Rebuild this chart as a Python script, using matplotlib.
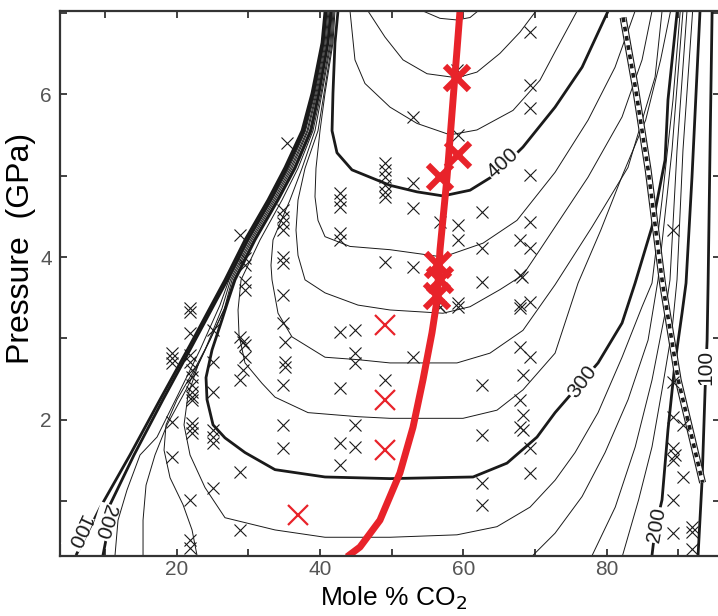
import matplotlib
matplotlib.use("Agg")
import matplotlib.pyplot as plt
from matplotlib.ticker import MultipleLocator

plt.rcParams['font.family'] = ['Liberation Sans', 'DejaVu Sans']

# ---- contour lines (x = mole % CO2, y = GPa) ----
c100_left = [(5.95, 0.34), (7.62, 0.63), (9.29, 0.92), (13.48, 1.57), (17.67, 2.25), (21.86, 2.92),
             (25.21, 3.47), (26.74, 3.72), (29.53, 4.21), (32.74, 4.70), (35.12, 5.10), (37.49, 5.55),
             (38.88, 6.01), (40.28, 6.63), (40.70, 7.02)]
c100_right = [(92.77, 0.34), (93.33, 1.26), (93.75, 2.37), (94.03, 2.98), (94.17, 3.68), (94.45, 5.40),
              (94.73, 7.02)]
c200_left = [(9.71, 0.34), (10.13, 0.53), (10.69, 0.96), (14.04, 1.57), (18.09, 2.25), (22.21, 2.92),
             (25.55, 3.47), (27.09, 3.72), (29.88, 4.21), (33.09, 4.70), (35.39, 5.09), (37.77, 5.55),
             (39.09, 6.01), (40.42, 6.63), (40.84, 7.02)]
c200_right = [(86.34, 0.34), (86.76, 0.65), (87.74, 1.02), (88.57, 1.88), (89.55, 2.70), (90.53, 3.31),
              (91.09, 3.68), (91.92, 4.98), (93.04, 7.02)]
c220_left = [(11.39, 0.34), (11.81, 0.77), (13.06, 1.14), (14.88, 1.57), (17.25, 1.79), (20.18, 2.31),
             (23.25, 2.86), (26.04, 3.41), (27.30, 3.72), (30.09, 4.21), (33.30, 4.70), (35.67, 5.09),
             (37.98, 5.55), (39.30, 6.01), (40.56, 6.63), (40.98, 7.02)]
c220_right = [(82.24, 0.34), (84.47, 1.02), (86.34, 1.67), (87.74, 2.37), (89.13, 3.10), (89.83, 3.72),
              (90.66, 5.31), (92.01, 7.02)]
c240_left = [(15.30, 0.34), (15.30, 0.77), (15.72, 1.20), (16.97, 1.57), (18.65, 1.94), (21.30, 2.37),
             (23.95, 2.86), (26.32, 3.37), (27.51, 3.72), (30.30, 4.21), (33.51, 4.70), (35.88, 5.09),
             (38.19, 5.55), (39.44, 6.01), (40.70, 6.63), (41.12, 7.02)]
c240_right = [(78.0, 0.34), (81.21, 0.93), (84.0, 1.67), (86.34, 2.49), (88.16, 3.31), (88.85, 3.72),
              (89.83, 5.31), (91.22, 7.02)]
c260_left = [(22.83, 0.34), (22.14, 0.65), (20.88, 0.96), (19.07, 1.29), (18.23, 1.63), (18.51, 1.94),
             (20.04, 2.25), (22.28, 2.59), (24.65, 2.98), (26.60, 3.35), (27.72, 3.72), (30.51, 4.21),
             (33.72, 4.70), (36.09, 5.09), (38.33, 5.55), (39.58, 6.01), (40.84, 6.63), (41.26, 7.02)]
c260_right = [(69.74, 0.34), (72.81, 0.61), (76.58, 1.06), (79.79, 1.60), (83.0, 2.25), (85.79, 2.98),
              (87.18, 3.72), (89.13, 5.31), (90.66, 7.02)]
c280 = [(41.40, 7.02), (40.98, 6.63), (39.72, 6.01), (38.54, 5.55), (36.30, 5.09), (33.93, 4.70),
        (30.72, 4.21), (27.93, 3.72), (26.88, 3.41), (24.93, 3.04), (22.97, 2.67), (21.58, 2.31),
        (21.02, 1.94), (21.86, 1.57), (23.95, 1.17), (26.74, 0.80), (33.72, 0.65), (40.70, 0.56),
        (49.77, 0.56), (59.12, 0.59), (64.70, 0.69), (69.32, 0.93), (72.81, 1.26), (75.60, 1.60),
        (78.81, 2.09), (82.16, 2.77), (84.95, 3.39), (86.34, 3.68), (87.74, 4.70), (89.27, 5.93),
        (90.28, 7.02)]
c300 = [(41.54, 7.02), (41.12, 6.63), (39.86, 6.01), (38.74, 5.55), (36.51, 5.09), (34.14, 4.70),
        (30.93, 4.21), (28.14, 3.72), (27.30, 3.50), (26.32, 3.23), (24.93, 2.86), (24.09, 2.52),
        (24.23, 2.25), (25.07, 1.94), (26.74, 1.78), (29.53, 1.60), (33.72, 1.39), (40.70, 1.30),
        (49.77, 1.28), (61.36, 1.30), (66.10, 1.47), (70.29, 1.79), (72.81, 2.09), (78.81, 2.70),
        (82.16, 3.19), (83.98, 3.68), (86.34, 4.37), (88.16, 5.19), (88.57, 5.93), (89.86, 7.02)]
c320 = [(41.68, 7.02), (41.40, 6.63), (40.14, 6.01), (39.02, 5.55), (36.93, 5.09), (34.70, 4.70),
        (31.63, 4.21), (28.98, 3.72), (28.56, 3.35), (28.70, 3.04), (29.53, 2.70), (31.90, 2.45),
        (33.72, 2.28), (38.33, 2.09), (45.30, 2.04), (49.77, 2.02), (59.96, 2.02), (64.70, 2.12),
        (68.33, 2.37), (72.81, 2.82), (76.02, 3.68), (79.19, 4.33), (82.24, 5.01), (85.45, 5.68),
        (87.54, 6.42), (88.93, 7.02)]
c340 = [(41.81, 7.02), (41.54, 6.63), (40.28, 6.01), (39.30, 5.55), (37.49, 5.09), (35.81, 4.70),
        (33.44, 4.21), (33.16, 3.90), (33.30, 3.72), (34.14, 3.31), (36.09, 3.02), (40.70, 2.77),
        (45.30, 2.74), (49.77, 2.70), (59.12, 2.70), (63.72, 2.82), (68.33, 3.10), (72.81, 3.66),
        (77.97, 4.37), (82.99, 5.10), (86.77, 6.21), (87.74, 7.02)]
c360 = [(41.95, 7.02), (41.68, 6.63), (40.56, 6.01), (39.72, 5.55), (37.91, 5.09), (36.93, 4.70),
        (36.65, 4.33), (36.93, 4.02), (37.91, 3.72), (40.70, 3.56), (45.30, 3.41), (49.77, 3.35),
        (57.17, 3.31), (60.94, 3.39), (65.12, 3.60), (68.33, 3.78), (70.70, 4.09), (72.81, 4.37),
        (77.41, 4.98), (82.16, 5.72), (84.95, 6.42), (86.34, 7.02)]
c380 = [(42.09, 7.02), (41.81, 6.63), (40.70, 6.01), (40.00, 5.55), (39.44, 5.09), (39.30, 4.74),
        (39.72, 4.45), (40.70, 4.25), (44.19, 4.13), (49.77, 4.09), (57.17, 4.00), (62.75, 4.17),
        (67.49, 4.45), (72.81, 5.04), (77.41, 5.68), (81.18, 6.33), (83.98, 7.02)]
c400 = [(42.51, 7.02), (42.09, 6.63), (41.81, 6.01), (41.68, 5.55), (42.37, 5.28), (44.46, 5.07),
        (49.77, 4.88), (53.54, 4.80), (57.17, 4.75), (60.94, 4.82), (64.43, 5.01), (68.33, 5.35),
        (72.81, 5.84), (76.58, 6.33), (80.21, 7.02)]
c420 = [(44.19, 7.02), (44.88, 6.42), (46.28, 6.13), (49.77, 5.84), (53.54, 5.64), (58.15, 5.50),
        (61.91, 5.56), (66.94, 5.80), (70.70, 6.17), (72.81, 6.52), (75.88, 7.02)]
c440 = [(46.70, 7.02), (49.07, 6.70), (51.59, 6.42), (54.94, 6.25), (59.12, 6.20), (61.91, 6.27),
        (65.12, 6.50), (67.91, 6.76), (70.14, 7.02)]
c460 = [(54.37, 7.02), (56.75, 6.93), (59.12, 6.91), (60.94, 6.94), (62.05, 7.02)]

# hatched boundary on the right
boundary = [(82.3, 6.94), (84.0, 6.09), (85.8, 5.07), (87.8, 3.68), (90.0, 2.49), (91.9, 1.79), (93.4, 1.23)]

# red trend line
red_curve = [(43.77, 0.32), (45.58, 0.44), (48.37, 0.77), (51.16, 1.35), (52.98, 1.91), (54.37, 2.49),
             (55.63, 3.07), (56.33, 3.47), (56.75, 4.09), (57.73, 4.98), (58.57, 5.93), (59.12, 6.54),
             (59.54, 7.02)]

# experiments (black crosses)
exp_x = [35.40, 42.82, 42.82, 42.82, 42.82, 42.82, 28.83, 34.83, 34.83, 34.83, 34.83, 34.83, 34.83,
         34.83, 29.53, 29.53, 29.53, 29.53, 21.86, 69.32, 59.12, 69.32, 69.32, 53.0, 59.26,
         49.07, 49.07, 49.07, 49.07, 49.07, 49.07, 53.0, 69.32, 53.0, 56.75, 59.26, 59.26, 62.61,
         69.32, 67.91, 69.32, 62.61, 49.07, 53.0, 62.61, 67.91, 68.19, 59.26, 56.47, 67.91, 69.32,
         89.28,
         21.86, 21.86, 21.86, 21.86, 22.14, 22.14, 22.14, 22.14, 22.14, 22.14, 22.14, 22.14, 22.14,
         19.34, 19.34, 19.34, 19.34, 19.34, 25.07, 25.07, 25.07, 25.07, 25.07, 25.07, 25.07,
         21.86, 21.86, 21.86, 28.83, 29.25, 29.53, 29.53, 29.25, 28.83, 28.83, 28.83,
         34.83, 35.12, 35.12, 35.12, 34.83, 34.83, 34.83, 42.82, 44.88, 44.88, 44.88, 42.82,
         44.88, 42.82, 44.88, 42.82,
         56.75, 59.26, 67.91, 53.0, 49.07, 67.91, 69.32, 62.61, 68.33, 67.91, 68.33, 67.91, 68.33,
         62.61, 69.32, 69.32, 62.61, 62.61,
         89.28, 89.28, 90.68, 89.28, 89.56, 89.28, 90.68, 89.28, 89.28, 91.93, 91.93, 91.93]
exp_y = [5.40, 4.79, 4.70, 4.61, 4.29, 4.21, 4.27, 4.58, 4.49, 4.42, 4.33, 4.00, 3.93,
         3.53, 3.99, 3.90, 3.69, 3.60, 3.37, 6.76, 6.29, 6.11, 5.83, 5.72, 5.50,
         5.15, 5.07, 4.98, 4.88, 4.80, 4.74, 4.91, 5.01, 4.60, 4.43, 4.39, 4.21, 4.55,
         4.43, 4.21, 4.11, 4.11, 3.94, 3.88, 3.69, 3.78, 3.75, 3.44, 3.41, 3.41, 3.45,
         4.33,
         3.33, 3.07, 2.80, 2.71, 2.61, 2.53, 2.43, 2.34, 2.28, 2.25, 1.96, 1.90, 1.84,
         2.82, 2.76, 2.70, 1.98, 1.55, 3.10, 2.71, 2.34, 1.88, 1.79, 1.72, 1.17,
         1.02, 0.53, 0.43, 3.02, 2.96, 2.92, 2.77, 2.61, 2.49, 1.36, 0.65,
         3.19, 2.96, 2.71, 2.65, 2.43, 1.94, 1.66, 3.08, 3.10, 2.82, 2.70, 2.39,
         1.94, 1.72, 1.67, 1.45,
         3.39, 3.39, 3.37, 2.77, 2.49, 2.90, 2.77, 2.43, 2.55, 2.25, 2.06, 1.91, 1.88,
         1.82, 1.66, 1.35, 1.23, 0.96,
         2.47, 2.04, 1.94, 1.66, 1.57, 1.51, 1.30, 1.02, 0.61, 0.69, 0.63, 0.41]

big_red_x = [59.12, 59.26, 56.75, 56.47, 56.75, 56.33]
big_red_y = [6.20, 5.25, 4.98, 3.90, 3.72, 3.52]
small_red_x = [36.95, 49.07, 49.07, 49.07]
small_red_y = [0.83, 3.17, 2.25, 1.63]

# contour labels: text, x, y, rotation
labels = [('400', 65.5, 5.15, 42), ('300', 76.6, 2.47, 53), ('200', 10.0, 0.75, -108),
          ('100', 6.2, 0.63, -115), ('200', 87.0, 0.71, 80), ('100', 93.8, 2.65, 90)]

RED = '#e8232a'

thick_lines = [c100_left, c100_right, c200_left, c200_right, c300, c400]
thin_lines = [c220_left, c220_right, c240_left, c240_right, c260_left, c260_right,
              c280, c320, c340, c360, c380, c420, c440, c460]

fig = plt.figure(figsize=(7.18, 6.16), dpi=100)
ax = fig.add_axes([60 / 718, 60 / 616, 660 / 718, 545 / 616])

for line in thin_lines:
    xs, ys = zip(*line)
    ax.plot(xs, ys, color='#1a1a1a', lw=0.7, solid_capstyle='butt')
for line in thick_lines:
    xs, ys = zip(*line)
    ax.plot(xs, ys, color='#1a1a1a', lw=2.0, solid_capstyle='butt')

bx, by = zip(*boundary)
ax.plot(bx, by, color='#1a1a1a', lw=5.0, solid_capstyle='butt')
ax.plot(bx, by, color='white', lw=3.4, solid_capstyle='butt')
ax.plot(bx, by, color='#1a1a1a', lw=2.6, dashes=(1.3, 1.3))

ax.plot(exp_x, exp_y, ls='none', marker='x', ms=8, mew=0.8, color='#1a1a1a')

rx, ry = zip(*red_curve)
ax.plot(rx, ry, color=RED, lw=5, solid_capstyle='butt')
ax.plot(small_red_x, small_red_y, ls='none', marker='x', ms=15, mew=1.6, color=RED)
ax.plot(big_red_x, big_red_y, ls='none', marker='x', ms=17, mew=4.5, color=RED)

for txt, lx, ly, rot in labels:
    ax.text(lx, ly, txt, fontsize=15, rotation=rot, ha='center', va='center',
            rotation_mode='anchor', color='#1a1a1a',
            bbox=dict(facecolor='white', edgecolor='none', pad=0.5))

ax.set_xlim(3.71, 95.83)
ax.set_ylim(0.33, 7.02)
ax.xaxis.set_major_locator(MultipleLocator(20))
ax.xaxis.set_minor_locator(MultipleLocator(10))
ax.yaxis.set_major_locator(MultipleLocator(2))
ax.yaxis.set_minor_locator(MultipleLocator(1))
ax.tick_params(which='both', direction='in', top=True, right=True, length=5, width=1.3,
               color='#333333', labelsize=15, labelcolor='#555555')
ax.tick_params(axis='x', pad=3)
ax.tick_params(axis='y', pad=6)
for sp in ax.spines.values():
    sp.set_linewidth(1.6)
    sp.set_color('#333333')

ax.set_xlabel('Mole % CO$_2$', fontsize=19)
ax.xaxis.set_label_coords(0.506, -0.053)
ax.set_ylabel('Pressure  (GPa)', fontsize=23)
ax.yaxis.set_label_coords(-0.037, 0.565)

fig.savefig('out.png', dpi=100)
